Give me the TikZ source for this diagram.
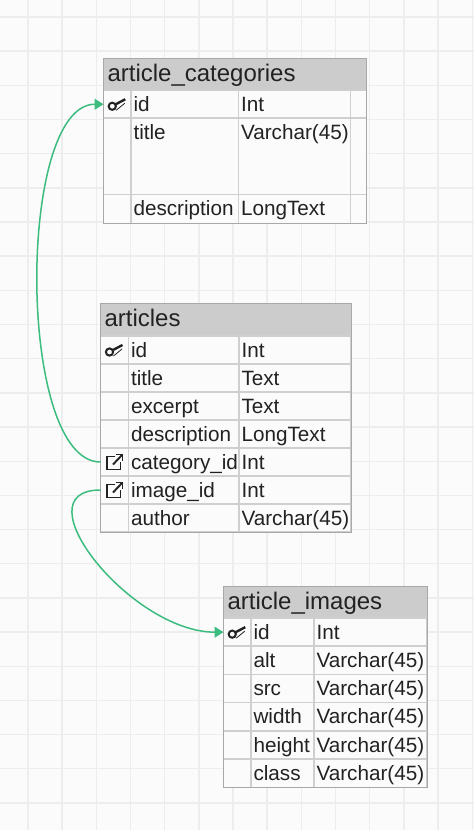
\documentclass[tikz,border=0pt]{standalone}
\usepackage{fontspec}
\setmainfont{Liberation Sans}
\usepackage{xcolor}
\usetikzlibrary{arrows.meta,calc}
\definecolor{paperbg}{HTML}{FBFBFB}
\definecolor{gridgrey}{HTML}{EDEDED}
\definecolor{headgrey}{HTML}{CCCCCC}
\definecolor{celledge}{HTML}{CFCFCF}
\definecolor{frameedge}{HTML}{A8A8A8}
\definecolor{inktext}{HTML}{222222}
\definecolor{relgreen}{HTML}{3CBD7F}
\tikzset{
  gridline/.style={draw=gridgrey, line width=1.4pt},
  headbox/.style n args={2}{draw=none, fill=headgrey, anchor=north west, outer sep=0pt, inner xsep=4pt, inner ysep=0pt,
    text width=#1pt-8pt, text height=23pt, text depth=#2pt-23pt, align=left, text=inktext, font=\fontsize{24}{24}\selectfont},
  cellbox/.style n args={2}{draw=celledge, line width=1.5pt, fill=paperbg, anchor=north west, outer sep=0pt, inner xsep=2.5pt, inner ysep=0pt,
    text width=#1pt-5pt, text height=21.2pt, text depth=#2pt-21.2pt, align=left, text=inktext, font=\fontsize{20.7}{21}\selectfont},
  tableframe/.style={draw=frameedge, line width=1pt},
  relarrow/.style={draw=relgreen, line width=1.5pt},
  keyicon/.pic={
    \draw[inktext, line width=2pt] (-5,2) circle (3.6);
    \draw[inktext, line width=2.4pt] (-1.5,0) -- (8,-5);
    \draw[inktext, line width=0.8pt] (-1,6) -- (7.5,-1);
  },
  linkicon/.pic={
    \draw[inktext, line width=1.9pt] (0.5,-5.5) -- (-7.5,-5.5) -- (-7.5,7.5) -- (6,7.5) -- (6,0);
    \draw[inktext, line width=1.9pt] (-1.5,2.5) -- (8,-7.5);
    \draw[inktext, line width=1.9pt] (1.5,-7.5) -- (8,-7.5) -- (8,-1);
  },
}
\begin{document}
\begin{tikzpicture}[x=1pt, y=-1pt]
  \useasboundingbox (0,0) rectangle (474,830);
  \fill[paperbg] (0,0) rectangle (474,830);

  % Background grid
  \foreach \i in {0,...,13} {
    \draw[gridline] ({28+\i*34.17},0) -- ({28+\i*34.17},830);
  }
  \foreach \i in {0,...,23} {
    \draw[gridline] (0,{17+\i*34.17}) -- (474,{17+\i*34.17});
  }

  % article_categories table
  \node[headbox={263}{32}] (cat-head) at (103.5,58.5) {article\_categories};
  \foreach \ry/\rh/\fname/\ftype [count=\r] in {
    90.5/27.5/id/Int,
    118/76.5/title/Varchar(45),
    194.5/29/description/LongText}
  {
    \node[cellbox={27.5}{\rh}] (cat-icon-\r) at (103.5,\ry) {};
    \node[cellbox={107.5}{\rh}] (cat-name-\r) at (131,\ry) {\fname};
    \node[cellbox={112}{\rh}] (cat-type-\r) at (238.5,\ry) {\ftype};
    \node[cellbox={16}{\rh}] (cat-pad-\r) at (350.5,\ry) {};
  }
  \draw[tableframe] (cat-head.north west) rectangle (cat-pad-3.south east);
  \pic at (cat-icon-1) {keyicon};

  % articles table
  \node[headbox={250.5}{32.5}] (art-head) at (100.5,303.5) {articles};
  \foreach \ry/\fname/\ftype [count=\r] in {
    336/id/Int,
    364/title/Text,
    392/excerpt/Text,
    420/description/LongText,
    448/category\_id/Int,
    476/image\_id/Int,
    504/author/Varchar(45)}
  {
    \node[cellbox={28}{28}] (art-icon-\r) at (100.5,\ry) {};
    \node[cellbox={110.5}{28}] (art-name-\r) at (128.5,\ry) {\fname};
    \node[cellbox={112}{28}] (art-type-\r) at (239,\ry) {\ftype};
  }
  \draw[tableframe] (art-head.north west) rectangle (art-type-7.south east);
  \pic at (art-icon-1) {keyicon};
  \pic at (art-icon-5) {linkicon};
  \pic at (art-icon-6) {linkicon};

  % article_images table
  \node[headbox={203.5}{31.5}] (img-head) at (223.5,586.5) {article\_images};
  \foreach \ry/\fname/\ftype [count=\r] in {
    618/id/Int,
    646/alt/Varchar(45),
    674.5/src/Varchar(45),
    702.5/width/Varchar(45),
    731/height/Varchar(45),
    759/class/Varchar(45)}
  {
    \node[cellbox={27.5}{28.3}] (img-icon-\r) at (223.5,\ry) {};
    \node[cellbox={63}{28.3}] (img-name-\r) at (251,\ry) {\fname};
    \node[cellbox={113}{28.3}] (img-type-\r) at (314,\ry) {\ftype};
  }
  \draw[tableframe] (img-head.north west) rectangle (img-type-6.south east);
  \pic at (img-icon-1) {keyicon};

  % Relations
  \draw[relarrow, -{Triangle[length=9pt,width=11pt]}] (art-icon-5.west)
    .. controls +(-84,0) and +(-87,0) .. (cat-icon-1.west);
  \draw[relarrow, -{Triangle[length=9pt,width=11pt]}] (art-icon-6.west)
    .. controls +(-82,0) and +(-93,0) .. (img-icon-1.west);
\end{tikzpicture}
\end{document}
